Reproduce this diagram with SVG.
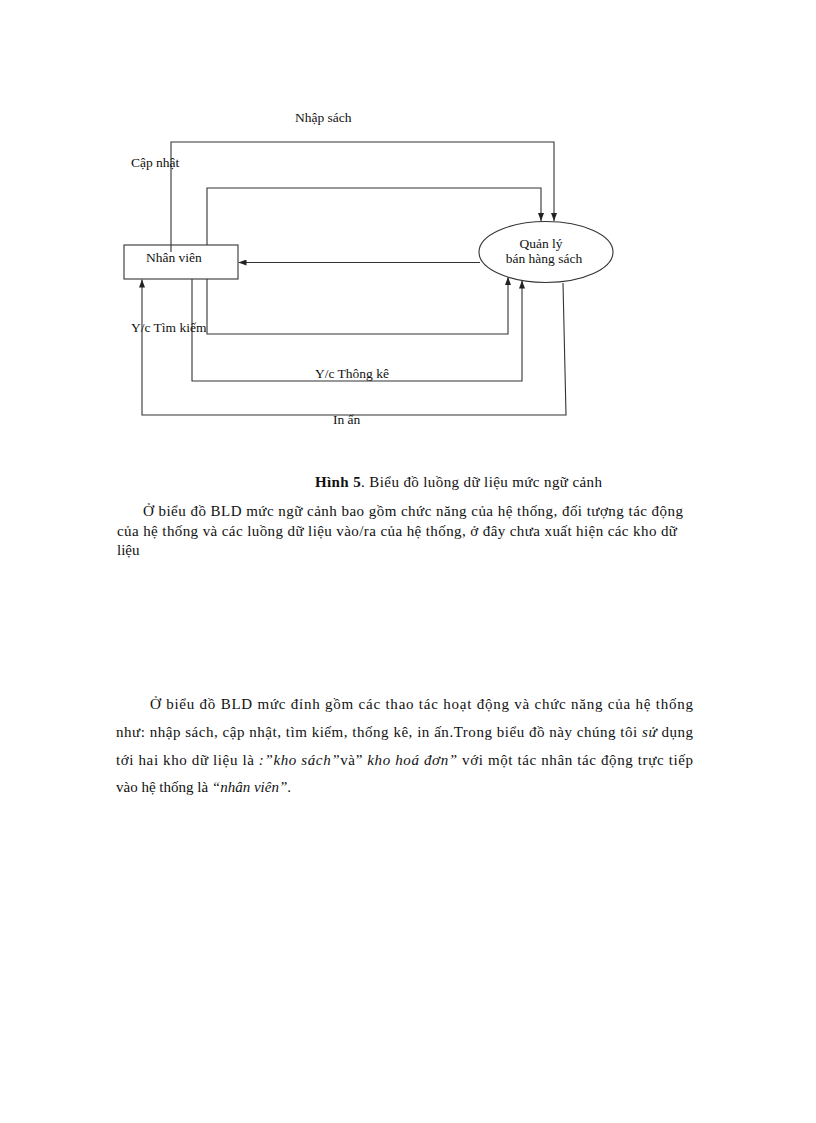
<svg xmlns="http://www.w3.org/2000/svg" width="816" height="1123" viewBox="0 0 816 1123">
<defs>
<marker id="arr" viewBox="0 0 8 6" refX="8" refY="3" markerWidth="8" markerHeight="6" markerUnits="userSpaceOnUse" orient="auto">
<path d="M0,0 L8,3 L0,6 Z" fill="#222"/>
</marker>
</defs>
<style>
.lbl{font-family:"Liberation Serif","Times New Roman",serif;font-size:13.5px;fill:#111}
.body{font-family:"Liberation Serif","Times New Roman",serif;font-size:15px;fill:#111}
.flow{fill:none;stroke:#333;stroke-width:1.1}
.shape{fill:#fff;stroke:#333;stroke-width:1.1}
.it{font-style:italic}
</style>
<rect width="816" height="1123" fill="#fff"/>

<g id="connectors">
<path class="flow" d="M171,252 V142 H554 V221" marker-end="url(#arr)"/>
<path class="flow" d="M207,245 V188 H541 V221" marker-end="url(#arr)"/>
<path class="flow" d="M480,262.5 H238.5" marker-end="url(#arr)"/>
<path class="flow" d="M207,279 V334 H508 V277" marker-end="url(#arr)"/>
<path class="flow" d="M192,279 V381 H522 V280.5" marker-end="url(#arr)"/>
<path class="flow" d="M563,283 L566,415 H142 V279.5" marker-end="url(#arr)"/>
<text class="lbl" x="295" y="122">Nhập sách</text>
<text class="lbl" x="131" y="167">Cập nhật</text>
<text class="lbl" x="131" y="332">Y/c Tìm kiếm</text>
<text class="lbl" x="315" y="378">Y/c Thông kê</text>
<text class="lbl" x="333" y="424">In ấn</text>
</g>

<g id="nhanvien">
<rect class="shape" x="124" y="245" width="114" height="34" fill-opacity="0"/>
<text class="lbl" x="146" y="262">Nhân viên</text>
</g>

<g id="quanly">
<ellipse class="shape" cx="546" cy="252" rx="67" ry="30.5"/>
<text class="lbl" x="541" y="247.5" text-anchor="middle">Quản lý</text>
<text class="lbl" x="544" y="262.5" text-anchor="middle">bán hàng sách</text>
</g>

<g id="caption">
<text class="body" x="315" y="487" textLength="287" lengthAdjust="spacing"><tspan font-weight="bold">Hình 5</tspan>. Biểu  đồ luồng  dữ liệu  mức ngữ  cảnh</text>
</g>

<g id="para1">
<text class="body" x="143" y="516" textLength="540" lengthAdjust="spacing">Ở biểu đồ BLD mức ngữ cảnh bao gồm chức năng của hệ thống, đối tượng tác động</text>
<text class="body" x="117" y="536" textLength="560" lengthAdjust="spacing">của hệ thống và các luồng dữ liệu vào/ra của hệ thống, ở đây chưa xuất hiện các kho dữ</text>
<text class="body" x="117" y="555">liệu</text>
</g>

<g id="para2">
<text class="body" x="150" y="709" textLength="543" lengthAdjust="spacing">Ở biểu đồ BLD mức đỉnh gồm các thao tác hoạt động và chức năng của hệ thống</text>
<text class="body" x="116" y="737" textLength="577" lengthAdjust="spacing">như: nhập sách, cập nhật, tìm kiếm, thống kê, in ấn.Trong biểu đồ này chúng tôi <tspan class="it">sử</tspan> dụng</text>
<text class="body" x="116" y="765" textLength="577" lengthAdjust="spacing">tới hai kho dữ liệu là <tspan class="it">:”kho sách”</tspan>và” <tspan class="it">kho hoá đơn”</tspan> với một tác nhân tác động trực tiếp</text>
<text class="body" x="116" y="792">vào hệ thống là <tspan class="it">“nhân viên”</tspan>.</text>
</g>
</svg>
